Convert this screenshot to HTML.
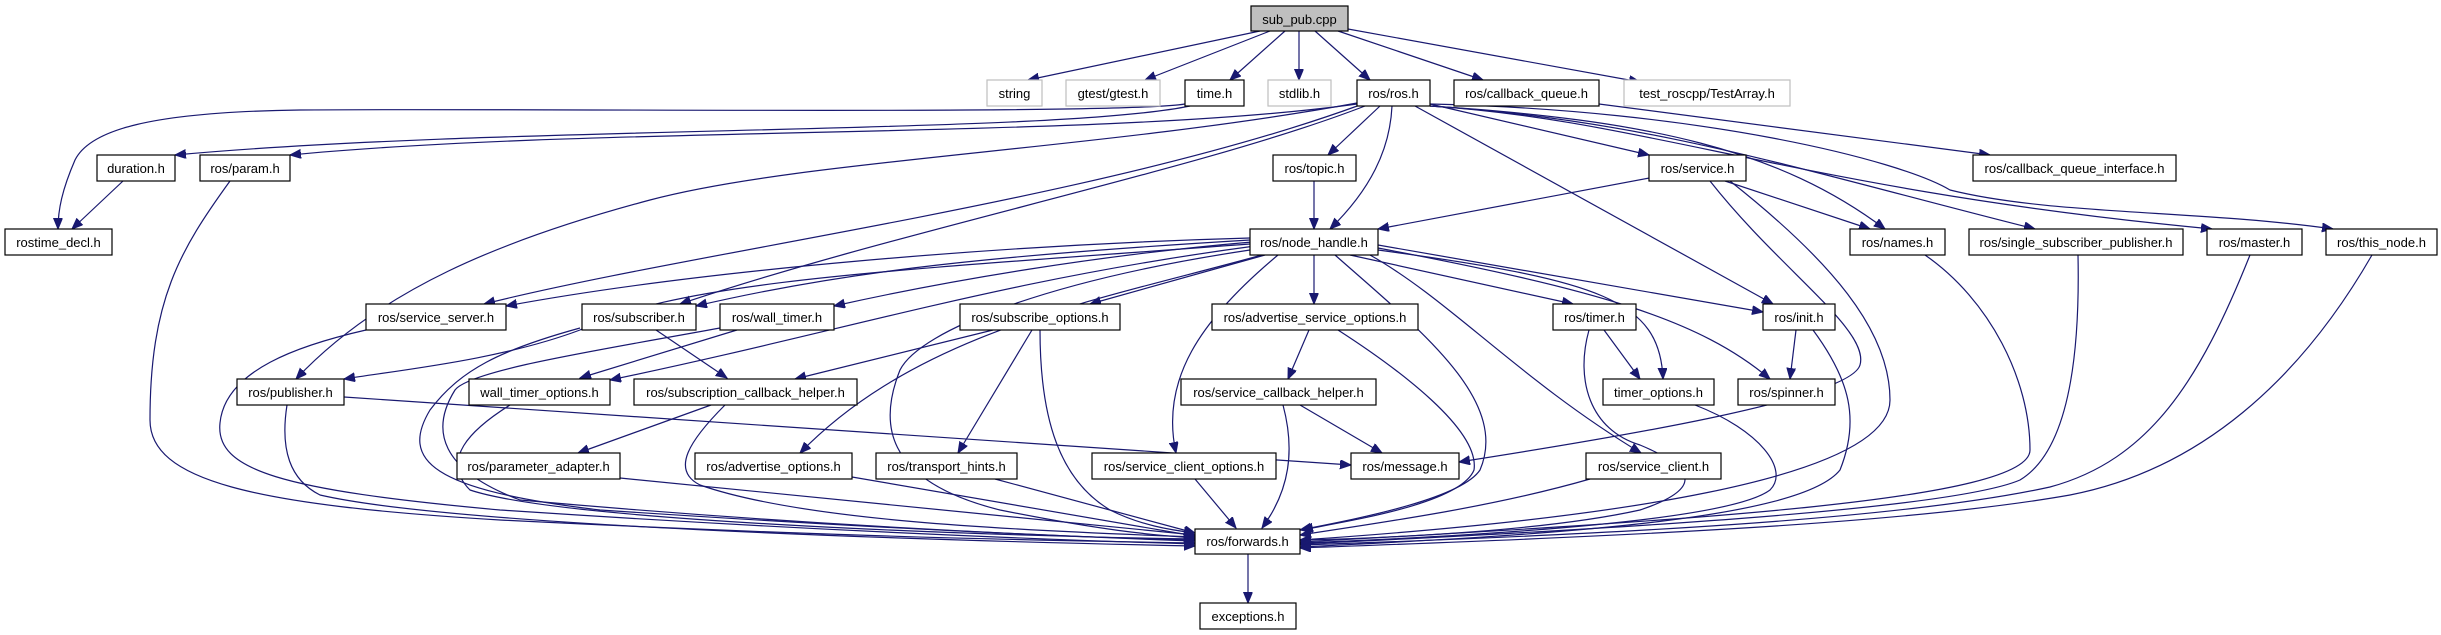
<!DOCTYPE html>
<html><head><meta charset="utf-8"><style>
html,body{margin:0;padding:0;background:#fff;}
svg{display:block;}
text{font-family:"Liberation Sans",sans-serif;font-size:13px;text-anchor:middle;fill:#000;}
.e{fill:none;stroke:#191970;stroke-width:1.2;marker-end:url(#a);}
.n{fill:#fff;stroke:#000;stroke-width:1.2;}
.g{fill:#fff;stroke:#bfbfbf;stroke-width:1.2;}
</style></head><body>
<svg width="2441" height="635" viewBox="0 0 2441 635" xmlns="http://www.w3.org/2000/svg">
<defs><marker id="a" markerUnits="userSpaceOnUse" markerWidth="12" markerHeight="10" refX="11" refY="4.5" orient="auto"><path d="M0,0 L11,4.5 L0,9 z" fill="#191970" stroke="#191970"/></marker></defs>
<!-- edges -->
<path class="e" d="M1260,31 L1028,80"/>
<path class="e" d="M1270,31 L1145,80"/>
<path class="e" d="M1285,31 L1230,80"/>
<path class="e" d="M1299,31 L1299,80"/>
<path class="e" d="M1315,31 L1370,80"/>
<path class="e" d="M1338,31 L1483,80"/>
<path class="e" d="M1348,29 L1640,82"/>
<path class="e" d="M1185,104 C1120,115 500,108 300,110 C150,112 90,130 75,160 C62,190 58,210 58,229"/>
<path class="e" d="M1190,106 C1050,135 500,125 175,155"/>
<path class="e" d="M1357,104 C1100,140 600,125 290,155"/>
<path class="e" d="M123,181 L72,229"/>
<path class="e" d="M230,181 C180,250 150,300 150,420 C150,480 250,505 500,520 C800,535 1000,540 1195,543"/>
<path class="e" d="M1357,103 C1100,150 800,160 650,200 C500,240 380,290 296,379"/>
<path class="e" d="M1360,105 C1100,200 700,250 484,304"/>
<path class="e" d="M1365,106 C1200,170 900,230 680,304"/>
<path class="e" d="M1380,106 L1328,155"/>
<path class="e" d="M1392,106 C1390,150 1370,190 1330,229"/>
<path class="e" d="M1415,106 L1773,304"/>
<path class="e" d="M1430,104 L1649,155"/>
<path class="e" d="M1430,106 C1650,120 1780,150 1885,229"/>
<path class="e" d="M1430,106 C1650,120 1800,170 2035,229"/>
<path class="e" d="M1430,106 C1650,120 1800,190 2212,229"/>
<path class="e" d="M1430,104 C1700,110 1900,160 1950,190 C2050,215 2200,210 2333,229"/>
<path class="e" d="M1599,104 L1990,155"/>
<path class="e" d="M1314,181 L1314,229"/>
<path class="e" d="M1660,176 L1378,229"/>
<path class="e" d="M1725,181 L1870,229"/>
<path class="e" d="M1710,181 C1780,270 1870,330 1860,365 C1850,400 1600,440 1459,462"/>
<path class="e" d="M1730,181 C1830,260 1890,330 1890,400 C1890,480 1600,520 1300,540"/>
<path class="e" d="M1925,255 C1990,300 2030,380 2030,450 C2030,500 1700,520 1300,542"/>
<path class="e" d="M2078,255 C2080,350 2070,450 2020,480 C1950,510 1600,530 1300,544"/>
<path class="e" d="M2250,255 C2200,380 2150,460 2050,487 C1900,520 1600,535 1300,545"/>
<path class="e" d="M2372,255 C2300,380 2200,470 2070,495 C1900,525 1600,537 1300,548"/>
<path class="e" d="M1250,238 C1000,245 700,270 506,306"/>
<path class="e" d="M1250,240 C1000,255 850,270 696,306"/>
<path class="e" d="M1252,242 C1100,255 950,280 834,306"/>
<path class="e" d="M1250,244 C900,270 680,280 580,330 C500,360 400,370 344,379"/>
<path class="e" d="M1255,246 C1000,280 850,330 610,380"/>
<path class="e" d="M1265,255 L1090,304"/>
<path class="e" d="M1314,255 L1314,304"/>
<path class="e" d="M1350,255 L1573,304"/>
<path class="e" d="M1378,245 L1763,312"/>
<path class="e" d="M1378,248 C1600,290 1700,320 1770,379"/>
<path class="e" d="M1378,250 C1600,280 1660,300 1663,379"/>
<path class="e" d="M1370,255 C1450,300 1520,380 1641,453"/>
<path class="e" d="M1335,255 C1420,330 1510,400 1480,470 C1460,500 1350,520 1300,530"/>
<path class="e" d="M1278,255 C1200,320 1160,380 1176,453"/>
<path class="e" d="M1262,255 C1100,300 920,330 800,453"/>
<path class="e" d="M1250,250 C1050,280 920,330 900,370 C880,420 880,480 1000,510 C1100,530 1150,535 1195,538"/>
<path class="e" d="M993,330 L795,379"/>
<path class="e" d="M737,330 L580,378"/>
<path class="e" d="M656,330 L727,378"/>
<path class="e" d="M580,328 C500,350 460,370 430,410 C400,460 430,490 600,510 C900,530 1100,538 1195,540"/>
<path class="e" d="M366,330 C300,345 225,370 220,423 C215,470 280,490 500,510 C800,530 1050,540 1195,544"/>
<path class="e" d="M720,328 C600,350 470,370 455,390 C430,430 440,470 520,500 C800,525 1050,536 1195,541"/>
<path class="e" d="M287,405 C280,450 290,480 320,495 C450,525 900,540 1195,546"/>
<path class="e" d="M344,397 L1351,465"/>
<path class="e" d="M510,405 C470,430 440,460 470,490 C560,520 950,535 1195,539"/>
<path class="e" d="M711,405 L578,453"/>
<path class="e" d="M725,405 C690,440 670,470 700,485 C800,520 1000,530 1195,537"/>
<path class="e" d="M620,478 L1195,535"/>
<path class="e" d="M852,477 L1195,536"/>
<path class="e" d="M995,479 L1195,533"/>
<path class="e" d="M1032,330 L958,453"/>
<path class="e" d="M1040,330 C1040,420 1060,480 1110,510 C1140,525 1170,530 1195,533"/>
<path class="e" d="M1309,330 L1288,379"/>
<path class="e" d="M1338,330 C1400,370 1480,430 1474,470 C1460,505 1340,522 1302,530"/>
<path class="e" d="M1300,405 L1382,453"/>
<path class="e" d="M1283,405 C1295,450 1290,490 1262,528"/>
<path class="e" d="M1195,479 L1236,528"/>
<path class="e" d="M1604,330 L1640,379"/>
<path class="e" d="M1589,330 C1575,380 1590,430 1640,445 C1700,470 1700,490 1640,510 C1550,530 1400,538 1300,540"/>
<path class="e" d="M1695,405 C1760,430 1790,470 1770,490 C1730,520 1500,535 1300,543"/>
<path class="e" d="M1590,479 C1500,505 1400,520 1300,535"/>
<path class="e" d="M1796,330 L1790,379"/>
<path class="e" d="M1813,330 C1850,380 1860,420 1840,470 C1800,520 1550,535 1300,547"/>
<path class="e" d="M1248,554 L1248,603"/>
<!-- nodes -->
<rect x="1251" y="6" width="97" height="25" fill="#bfbfbf" stroke="#000" stroke-width="1.2"/><text x="1299.5" y="24">sub_pub.cpp</text>
<rect class="g" x="987" y="80" width="55" height="26"/><text x="1014.5" y="98">string</text>
<rect class="g" x="1066" y="80" width="94" height="26"/><text x="1113" y="98">gtest/gtest.h</text>
<rect class="n" x="1185" y="80" width="59" height="26"/><text x="1214.5" y="98">time.h</text>
<rect class="g" x="1268" y="80" width="63" height="26"/><text x="1299.5" y="98">stdlib.h</text>
<rect class="n" x="1357" y="80" width="73" height="26"/><text x="1393.5" y="98">ros/ros.h</text>
<rect class="n" x="1454" y="80" width="145" height="26"/><text x="1526.5" y="98">ros/callback_queue.h</text>
<rect class="g" x="1624" y="80" width="166" height="26"/><text x="1707" y="98">test_roscpp/TestArray.h</text>
<rect class="n" x="97" y="155" width="78" height="26"/><text x="136" y="173">duration.h</text>
<rect class="n" x="200" y="155" width="90" height="26"/><text x="245" y="173">ros/param.h</text>
<rect class="n" x="1273" y="155" width="83" height="26"/><text x="1314.5" y="173">ros/topic.h</text>
<rect class="n" x="1649" y="155" width="97" height="26"/><text x="1697.5" y="173">ros/service.h</text>
<rect class="n" x="1973" y="155" width="203" height="26"/><text x="2074.5" y="173">ros/callback_queue_interface.h</text>
<rect class="n" x="5" y="229" width="107" height="26"/><text x="58.5" y="247">rostime_decl.h</text>
<rect class="n" x="1250" y="229" width="128" height="26"/><text x="1314" y="247">ros/node_handle.h</text>
<rect class="n" x="1850" y="229" width="95" height="26"/><text x="1897.5" y="247">ros/names.h</text>
<rect class="n" x="1969" y="229" width="214" height="26"/><text x="2076" y="247">ros/single_subscriber_publisher.h</text>
<rect class="n" x="2207" y="229" width="95" height="26"/><text x="2254.5" y="247">ros/master.h</text>
<rect class="n" x="2326" y="229" width="111" height="26"/><text x="2381.5" y="247">ros/this_node.h</text>
<rect class="n" x="366" y="304" width="140" height="26"/><text x="436" y="322">ros/service_server.h</text>
<rect class="n" x="582" y="304" width="114" height="26"/><text x="639" y="322">ros/subscriber.h</text>
<rect class="n" x="720" y="304" width="114" height="26"/><text x="777" y="322">ros/wall_timer.h</text>
<rect class="n" x="960" y="304" width="160" height="26"/><text x="1040" y="322">ros/subscribe_options.h</text>
<rect class="n" x="1212" y="304" width="206" height="26"/><text x="1315" y="322">ros/advertise_service_options.h</text>
<rect class="n" x="1553" y="304" width="83" height="26"/><text x="1594.5" y="322">ros/timer.h</text>
<rect class="n" x="1763" y="304" width="72" height="26"/><text x="1799" y="322">ros/init.h</text>
<rect class="n" x="237" y="379" width="107" height="26"/><text x="290.5" y="397">ros/publisher.h</text>
<rect class="n" x="469" y="379" width="141" height="26"/><text x="539.5" y="397">wall_timer_options.h</text>
<rect class="n" x="634" y="379" width="223" height="26"/><text x="745.5" y="397">ros/subscription_callback_helper.h</text>
<rect class="n" x="1181" y="379" width="195" height="26"/><text x="1278.5" y="397">ros/service_callback_helper.h</text>
<rect class="n" x="1603" y="379" width="111" height="26"/><text x="1658.5" y="397">timer_options.h</text>
<rect class="n" x="1738" y="379" width="97" height="26"/><text x="1786.5" y="397">ros/spinner.h</text>
<rect class="n" x="457" y="453" width="163" height="26"/><text x="538.5" y="471">ros/parameter_adapter.h</text>
<rect class="n" x="695" y="453" width="157" height="26"/><text x="773.5" y="471">ros/advertise_options.h</text>
<rect class="n" x="876" y="453" width="141" height="26"/><text x="946.5" y="471">ros/transport_hints.h</text>
<rect class="n" x="1092" y="453" width="184" height="26"/><text x="1184" y="471">ros/service_client_options.h</text>
<rect class="n" x="1351" y="453" width="108" height="26"/><text x="1405" y="471">ros/message.h</text>
<rect class="n" x="1586" y="453" width="135" height="26"/><text x="1653.5" y="471">ros/service_client.h</text>
<rect class="n" x="1195" y="529" width="105" height="25"/><text x="1247.5" y="546">ros/forwards.h</text>
<rect class="n" x="1200" y="603" width="96" height="26"/><text x="1248" y="621">exceptions.h</text>
</svg>
</body></html>
